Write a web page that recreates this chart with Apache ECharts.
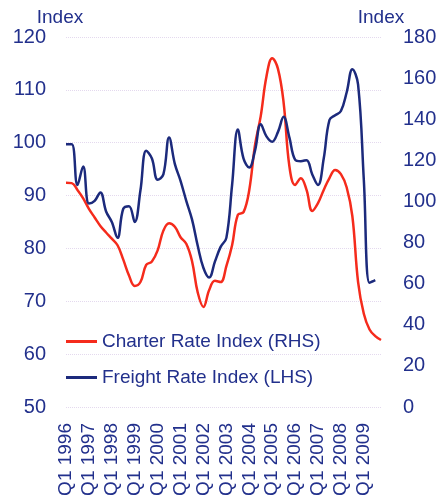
<!DOCTYPE html>
<html>
<head>
<meta charset="utf-8">
<script src="https://cdn.jsdelivr.net/npm/echarts@6/dist/echarts.min.js"></script>
<style>html,body{margin:0;padding:0;background:#fff}#c{width:441px;height:502px}</style>
</head>
<body>
<div id="c"></div>
<script>
var years = ['1996','1997','1998','1999','2000','2001','2002','2003','2004','2005','2006','2007','2008','2009'];
var quarters = ['Q1','Q2','Q3','Q4'];
var categories = [];
years.forEach(function(y){ quarters.forEach(function(q){ categories.push(q + ' ' + y); }); });

// Freight Rate Index (LHS), Q1 1996 - Q3 2009
var freightRate = [99.7, 99.7, 92, 95.5, 88.5, 89, 90.6, 87, 85, 82,
  87.5, 88, 85, 91, 98.5, 97, 93, 94, 101, 96,
  92.8, 89, 85.5, 80.5, 76.3, 74.5, 77.5, 80.3, 82, 92,
  102.5, 97, 95.3, 98.5, 103.5, 101.2, 100.2, 102, 104.9, 101,
  96.8, 96.5, 96.7, 94, 92, 97, 104.3, 105.2, 106, 109.5,
  113.9, 111, 93, 73.5, 74];

// Charter Rate Index (RHS), Q1 1996 - Q4 2009
var charterRate = [109.1, 108.9, 105.6, 101.5, 96.4, 92.2, 88.1, 84.9, 81.9, 78.7,
  71.7, 64, 58.9, 60.8, 69.1, 70.8, 76.2, 85.8, 89.4, 87.7,
  82.6, 79.4, 71, 55.7, 48.7, 56.9, 61.4, 60.8, 68.5, 78.7,
  93.5, 94.8, 105.6, 127.4, 141.5, 160.8, 169.7, 164.6, 148, 117.2,
  108, 111.3, 105.6, 95.4, 99.2, 105.6, 111.4, 115.3, 113.3, 106.9,
  92.8, 60.8, 45.4, 37.7, 34.5, 32.6];

var textColor = '#22308c';
var font = 'Liberation Sans, Arial, sans-serif';
var chart = echarts.init(document.getElementById('c'), null, {renderer: 'canvas'});
chart.setOption({
  animation: false,
  backgroundColor: '#ffffff',
  textStyle: {fontFamily: font},
  grid: {left: 66, right: 60, top: 37, bottom: 95, containLabel: false},
  legend: {
    orient: 'vertical',
    left: 66,
    top: 332,
    padding: 0,
    itemWidth: 31,
    itemHeight: 3,
    itemGap: 17,
    icon: 'rect',
    data: [
      {name: 'Charter Rate Index (RHS)', itemStyle: {color: '#f52b1c'}},
      {name: 'Freight Rate Index (LHS)', itemStyle: {color: '#1c2a7c'}}
    ],
    textStyle: {fontSize: 19, color: textColor, fontFamily: font}
  },
  xAxis: {
    type: 'category',
    data: categories,
    boundaryGap: false,
    axisLine: {show: false},
    axisTick: {show: false},
    splitLine: {show: false},
    axisLabel: {interval: 3, rotate: 90, fontSize: 19, color: textColor, margin: 16, fontFamily: font}
  },
  yAxis: [
    {
      type: 'value', min: 50, max: 120, interval: 10,
      name: 'Index', nameLocation: 'end', nameGap: 8,
      nameTextStyle: {fontSize: 19, color: textColor, padding: [0, 12, 0, 0], fontFamily: font},
      axisLine: {show: false}, axisTick: {show: false},
      axisLabel: {fontSize: 20, color: textColor, margin: 20, fontFamily: font},
      splitLine: {show: true, lineStyle: {color: '#e4d9ee', type: 'dotted', width: 1}}
    },
    {
      type: 'value', min: 0, max: 180, interval: 20, position: 'right',
      name: 'Index', nameLocation: 'end', nameGap: 8,
      nameTextStyle: {fontSize: 19, color: textColor, fontFamily: font},
      axisLine: {show: false}, axisTick: {show: false},
      axisLabel: {fontSize: 20, color: textColor, margin: 22, fontFamily: font},
      splitLine: {show: false}
    }
  ],
  series: [
    {
      name: 'Charter Rate Index (RHS)', type: 'line', yAxisIndex: 1,
      data: charterRate, smooth: 0.4, symbol: 'none',
      lineStyle: {color: '#f52b1c', width: 2.5}, itemStyle: {color: '#f52b1c'}
    },
    {
      name: 'Freight Rate Index (LHS)', type: 'line', yAxisIndex: 0,
      data: freightRate, smooth: 0.4, symbol: 'none',
      lineStyle: {color: '#1c2a7c', width: 2.5}, itemStyle: {color: '#1c2a7c'}
    }
  ]
});
</script>
</body>
</html>
